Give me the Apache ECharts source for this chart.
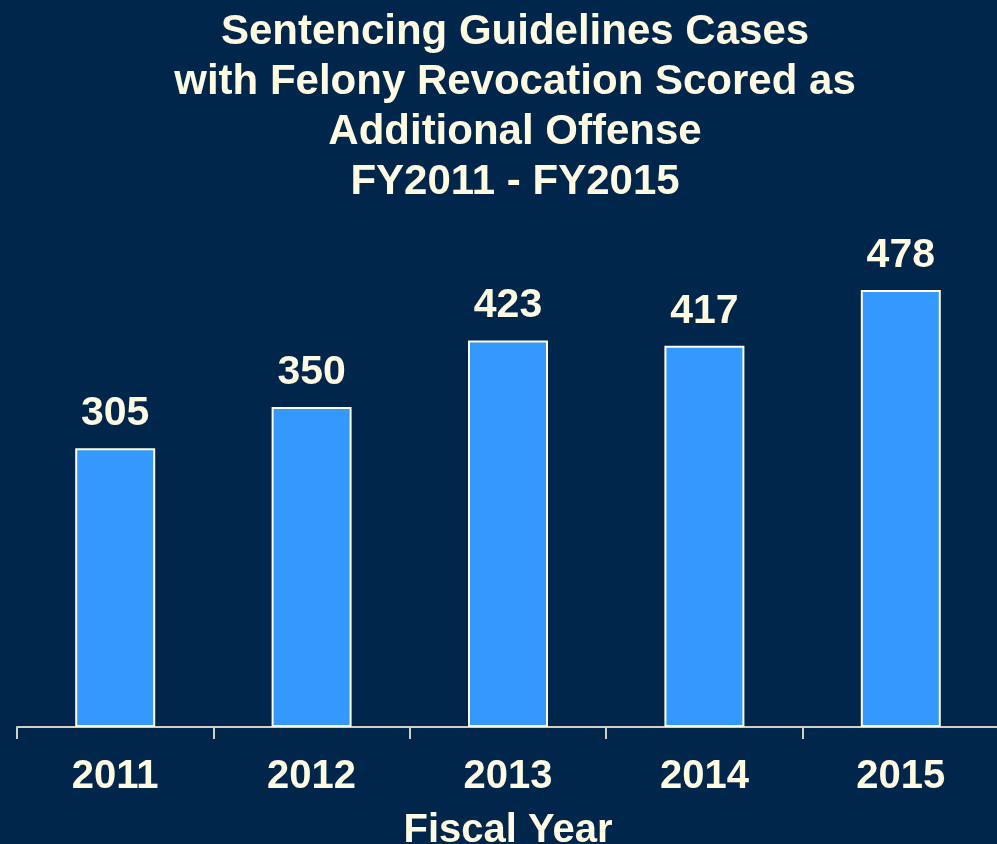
<!DOCTYPE html>
<html>
<head>
<meta charset="utf-8">
<script src="https://cdn.jsdelivr.net/npm/echarts@6/dist/echarts.min.js"></script>
<style>
  html, body { margin: 0; padding: 0; background: #00264b; }
  #chart { width: 997px; height: 844px; }
</style>
</head>
<body>
<div id="chart"></div>
<script>
// fiscal years and case counts
const years = ['2011', '2012', '2013', '2014', '2015']
const cases = [305, 350, 423, 417, 478]

const cream = '#fffbe3'

const chart = echarts.init(document.getElementById('chart'))
chart.setOption({
  backgroundColor: '#00264b',
  title: {
    text: 'Sentencing Guidelines Cases\nwith Felony Revocation Scored as\nAdditional Offense\nFY2011 - FY2015',
    left: 510,
    textAlign: 'center',
    top: 2,
    textStyle: {
      color: cream,
      fontFamily: 'Liberation Sans',
      fontWeight: 'bold',
      fontSize: 42,
      lineHeight: 50
    }
  },
  grid: { left: 17, right: -2, top: 270, bottom: 117, outerBoundsMode: 'none', containLabel: false },
  xAxis: {
    type: 'category',
    data: years,
    name: 'Fiscal Year',
    nameLocation: 'middle',
    nameGap: 84,
    nameTextStyle: { color: cream, fontFamily: 'Liberation Sans', fontWeight: 'bold', fontSize: 40 },
    axisLine: { lineStyle: { color: '#d0d0c4', width: 2 } },
    axisTick: { show: true, alignWithLabel: false, length: 12, lineStyle: { color: '#d0d0c4', width: 2 } },
    axisLabel: { color: cream, fontFamily: 'Liberation Sans', fontWeight: 'bold', fontSize: 40, margin: 30 }
  },
  yAxis: {
    type: 'value',
    min: 0,
    max: 500,
    show: false,
    splitLine: { show: false }
  },
  series: [{
    type: 'bar',
    data: cases,
    barWidth: 80,
    itemStyle: { color: '#3399ff', borderColor: cream, borderWidth: 2 },
    label: {
      show: true,
      position: 'top',
      distance: 14,
      color: cream,
      fontFamily: 'Liberation Sans',
      fontWeight: 'bold',
      fontSize: 41
    }
  }]
})
</script>
</body>
</html>
